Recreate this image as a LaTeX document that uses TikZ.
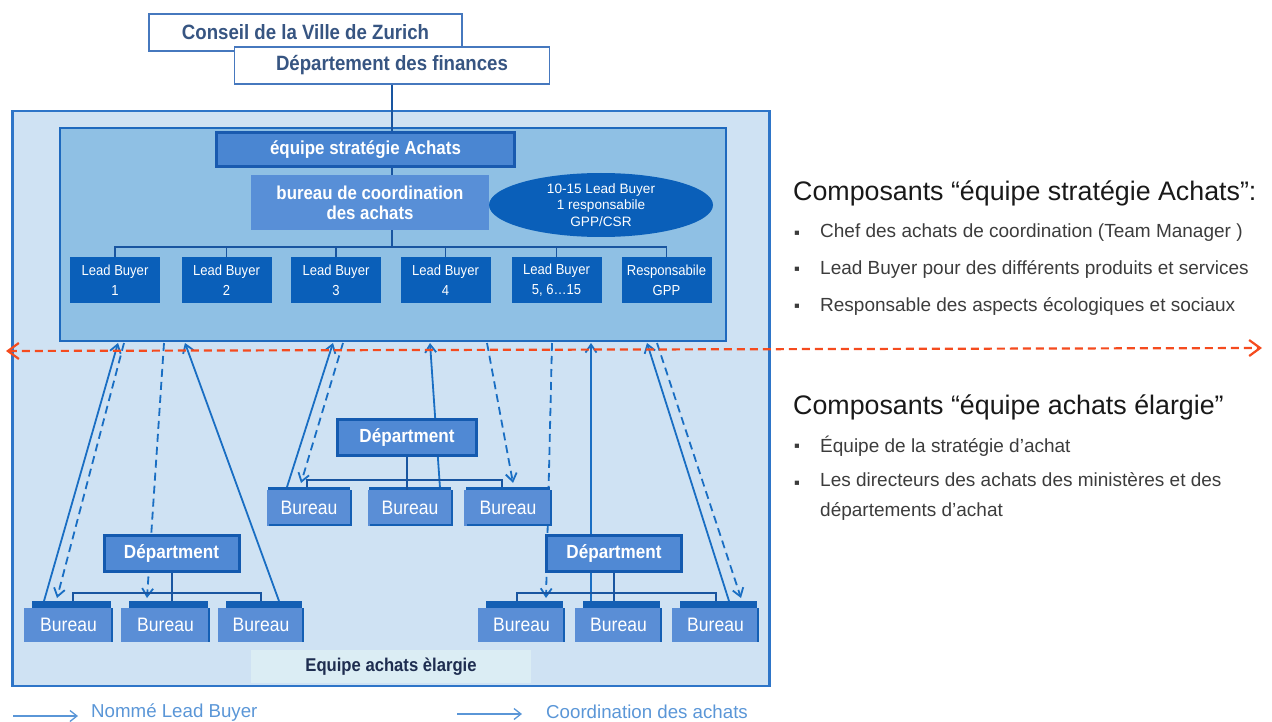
\documentclass[tikz,border=0pt]{standalone}
\usepackage{fontspec}
\setmainfont{Liberation Sans}
\newfontfamily\narrowfont[FakeStretch=0.9]{Liberation Sans}
\newfontfamily\dejavu{DejaVu Sans}
\usetikzlibrary{arrows.meta,shapes.geometric}
\definecolor{outerfill}{RGB}{207,226,243}
\definecolor{outerdraw}{RGB}{46,117,200}
\definecolor{innerfill}{RGB}{143,192,228}
\definecolor{innerdraw}{RGB}{30,105,190}
\definecolor{equifill}{RGB}{74,134,210}
\definecolor{equidraw}{RGB}{25,90,175}
\definecolor{coordfill}{RGB}{88,143,215}
\definecolor{lbfill}{RGB}{10,95,185}
\definecolor{deptfill}{RGB}{80,137,212}
\definecolor{deptdraw}{RGB}{20,90,175}
\definecolor{burfill}{RGB}{90,142,214}
\definecolor{tabc}{RGB}{20,95,180}
\definecolor{busc}{RGB}{25,85,160}
\definecolor{arrc}{RGB}{25,110,195}
\definecolor{redc}{RGB}{245,75,30}
\definecolor{toptext}{RGB}{55,85,130}
\definecolor{topdraw}{RGB}{70,120,190}
\definecolor{elfill}{RGB}{219,237,244}
\definecolor{eltext}{RGB}{30,45,80}
\definecolor{legc}{RGB}{90,150,215}
\definecolor{headc}{RGB}{25,25,25}
\definecolor{bulc}{RGB}{60,60,60}
\begin{document}
\begin{tikzpicture}[x=1pt,y=-1pt,
  topbox/.style={rectangle, draw=topdraw, fill=white, line width=1.2pt, inner sep=0pt, text=toptext, font=\narrowfont\fontsize{20.7}{24}\selectfont\bfseries},
  lbox/.style={rectangle, fill=lbfill, text=white, minimum width=90pt, minimum height=46pt, inner sep=0pt, align=center, font=\narrowfont\fontsize{14.5}{20}\selectfont},
  dept/.style={rectangle, fill=deptfill, draw=deptdraw, line width=3pt, text=white, inner sep=0pt, minimum height=36pt, font=\narrowfont\fontsize{19}{22}\selectfont\bfseries},
  bur/.style={rectangle, fill=burfill, text=white, inner sep=0pt, font=\narrowfont\fontsize{19.5}{22}\selectfont},
  bus/.style={draw=busc, line width=2pt},
  thinline/.style={draw=busc, line width=1.4pt},
  sarr/.style={draw=arrc, line width=1.8pt, -{Straight Barb[length=8pt,width=11pt]}},
  darr/.style={sarr, dash pattern=on 8pt off 5pt},
  headtxt/.style={anchor=west, inner sep=0pt, text=headc, font=\fontsize{26.8}{30}\selectfont},
  bultxt/.style={anchor=west, inner sep=0pt, text=bulc, align=left, font=\fontsize{19}{30}\selectfont},
  bulmark/.style={inner sep=0pt, text=bulc, font=\dejavu\fontsize{8.5}{9}\selectfont},
  legtxt/.style={anchor=west, inner sep=0pt, text=legc, font=\fontsize{18.7}{20}\selectfont},
  legarr/.style={draw=legc, line width=1.3pt, -{Straight Barb[length=7pt,width=11pt]}}
]
\useasboundingbox (0,0) rectangle (1272,722);

% containers
\node[rectangle, draw=outerdraw, fill=outerfill, line width=2.5pt, inner sep=0pt, minimum width=757pt, minimum height=575pt] (outer) at (391,398.5) {};
\node[rectangle, draw=innerdraw, fill=innerfill, line width=2.5pt, inner sep=0pt, minimum width=666pt, minimum height=213pt] (inner) at (393,234.5) {};

% top boxes
\node[topbox, minimum width=313pt, minimum height=37pt] (conseil) at (305.5,32.5) {Conseil de la Ville de Zurich};
\node[topbox, minimum width=315pt, minimum height=37pt] (finances) at (392,65.5) {Département des finances};

% inner content
\node[rectangle, fill=equifill, draw=equidraw, line width=3pt, inner sep=0pt, minimum width=298pt, minimum height=34pt, text=white, font=\narrowfont\fontsize{18.8}{22}\selectfont\bfseries] (equipe) at (365.5,150) {équipe stratégie Achats};
\node[rectangle, fill=coordfill, inner sep=0pt, minimum width=238pt, minimum height=55pt, text=white, align=center, font=\narrowfont\fontsize{18.7}{20}\selectfont\bfseries] (coord) at (370,202.5) {bureau de coordination\\des achats};
\node[ellipse, fill=lbfill, inner sep=0pt, minimum width=224pt, minimum height=64pt, text=white, align=center, font=\fontsize{13.6}{16.5}\selectfont] (ell) at (601,205) {10-15 Lead Buyer\\1 responsabile\\GPP/CSR};

\draw[thinline] (finances.south) -- (finances.south |- equipe.north);
\draw[thinline] (finances.south |- equipe.south) -- (finances.south |- coord.north);

\node[lbox] (lb1) at (115,280) {Lead Buyer\\1};
\node[lbox] (lb2) at (226.5,280) {Lead Buyer\\2};
\node[lbox] (lb3) at (336,280) {Lead Buyer\\3};
\node[lbox] (lb4) at (445.5,280) {Lead Buyer\\4};
\node[lbox] (lb5) at (556.5,280) {Lead Buyer\\5, 6\dots15};
\node[lbox] (lb6) at (666.5,280) {Responsabile\\GPP};
\coordinate (busy) at (0,247);
\draw[thinline] (finances.south |- coord.south) -- (finances.south |- busy);
\draw[thinline] (lb1.north) -- (lb1.north |- busy) -- (lb6.north |- busy) -- (lb6.north);
\foreach \n in {lb2,lb3,lb4,lb5} \draw[thinline] (\n.north) -- (\n.north |- busy);

% arrow anchor points
\coordinate (u1) at (118,343);  \coordinate (v1) at (44,601);
\coordinate (u2) at (124,343);  \coordinate (v2) at (57,598);
\coordinate (u3) at (164,343);  \coordinate (v3) at (147,598);
\coordinate (u4) at (185,343);  \coordinate (v4) at (279,601);
\coordinate (u5) at (333,343);  \coordinate (v5) at (287,487);
\coordinate (u6) at (343,343);  \coordinate (v6) at (301,483);
\coordinate (u7) at (430,343);  \coordinate (v7) at (440,488);
\coordinate (u8) at (487,343);  \coordinate (v8) at (513,483);
\coordinate (u10) at (552,343); \coordinate (v10) at (546,598);
\coordinate (u11) at (591,343); \coordinate (v11) at (591,601);
\coordinate (u12) at (647,343); \coordinate (v12) at (729,601);
\coordinate (u13) at (657,343); \coordinate (v13) at (741,598);

\draw[sarr] (v1) -- (u1);
\draw[darr] (u2) -- (v2);
\draw[darr] (u3) -- (v3);
\draw[sarr] (v4) -- (u4);
\draw[sarr] (v5) -- (u5);
\draw[darr] (u6) -- (v6);
\draw[sarr] (v7) -- (u7);
\draw[darr] (u8) -- (v8);
\draw[darr] (u10) -- (v10);
\draw[sarr] (v11) -- (u11);
\draw[sarr] (v12) -- (u12);
\draw[darr] (u13) -- (v13);

% departments
\node[dept, minimum width=139pt] (cdept) at (407,437.5) {Départment};
\node[dept, minimum width=135pt] (ldept) at (171.5,553.5) {Départment};
\node[dept, minimum width=135pt] (rdept) at (614,553.5) {Départment};

% center bureaus
\node[bur, minimum width=85pt, minimum height=36pt] (cb1) at (309,508) {Bureau};
\node[bur, minimum width=85pt, minimum height=36pt] (cb2) at (410,508) {Bureau};
\node[bur, minimum width=88pt, minimum height=36pt] (cb3) at (508,508) {Bureau};
% bottom bureaus
\node[bur, minimum width=89pt, minimum height=34pt] (lb1b) at (68.5,625) {Bureau};
\node[bur, minimum width=89pt, minimum height=34pt] (lb2b) at (165.5,625) {Bureau};
\node[bur, minimum width=86pt, minimum height=34pt] (lb3b) at (261,625) {Bureau};
\node[bur, minimum width=87pt, minimum height=34pt] (rb1b) at (521.5,625) {Bureau};
\node[bur, minimum width=87pt, minimum height=34pt] (rb2b) at (618.5,625) {Bureau};
\node[bur, minimum width=87pt, minimum height=34pt] (rb3b) at (715.5,625) {Bureau};

\foreach \n in {cb1,cb2,cb3} {
  \fill[tabc] ([xshift=2pt]\n.north west) rectangle ([xshift=-2pt,yshift=3pt]\n.north east);
  \fill[tabc] ([xshift=-2pt]\n.north east) rectangle (\n.south east);
  \fill[tabc] ([xshift=3pt]\n.south west) rectangle ([yshift=2pt]\n.south east);
}
\foreach \n in {lb1b,lb2b,lb3b,rb1b,rb2b,rb3b} {
  \fill[tabc] ([xshift=8pt]\n.north west) rectangle ([xshift=-2pt,yshift=7pt]\n.north east);
  \fill[tabc] ([xshift=-2pt]\n.north east) rectangle (\n.south east);
}

% buses
\coordinate (lbus) at (0,593);
\draw[bus] (cdept.south) -- (cdept.south |- cb2.north);
\draw[bus] ([xshift=-2pt]cb1.north |- cb1.north) ++(0,-3) -- ++(0,-7) -| ([xshift=-6pt,yshift=3pt]cb3.north);
\draw[bus] (ldept.south) -- ([yshift=7pt]ldept.south |- lb2b.north);
\draw[bus] ([xshift=4.5pt,yshift=7pt]lb1b.north) |- (lbus -| lb3b.north) -- ([yshift=7pt]lb3b.north);
\draw[bus] (rdept.south) -- ([yshift=7pt]rdept.south |- rb2b.north);
\draw[bus] ([xshift=-4.5pt,yshift=7pt]rb1b.north) |- (lbus -| rb3b.north) -- ([yshift=7pt]rb3b.north);

% label of extended team
\node[rectangle, fill=elfill, inner sep=0pt, minimum width=280pt, minimum height=33pt, text=eltext, font=\narrowfont\fontsize{18.5}{20}\selectfont\bfseries] (elargie) at (391,666.5) {Equipe achats èlargie};

% red dashed separator
\coordinate (rl) at (6,351);
\coordinate (rr) at (1262,348);
\draw[draw=redc, line width=2.2pt, dash pattern=on 8pt off 5pt, {Straight Barb[length=11pt,width=16pt]}-{Straight Barb[length=11pt,width=16pt]}] (rl) -- (rr);

% legend
\coordinate (la1) at (13,716); \coordinate (la2) at (78,716);
\draw[legarr] (la1) -- (la2);
\node[legtxt] (lg1) at (91,713) {Nommé Lead  Buyer};
\coordinate (lb1a) at (457,714); \coordinate (lb2a) at (522,714);
\draw[legarr] (lb1a) -- (lb2a);
\node[legtxt] (lg2) at (546,712) {Coordination des achats};

% right-hand text
\node[headtxt] (h1) at (793,193) {Composants “équipe stratégie Achats”:};
\node[bulmark] (m1) at (797,233) {▪};
\node[bultxt] (t1) at (820,233) {Chef des achats de coordination (Team Manager )};
\node[bulmark] (m2) at (797,269) {▪};
\node[bultxt] (t2) at (820,269) {Lead Buyer pour des différents produits et services};
\node[bulmark] (m3) at (797,306) {▪};
\node[bultxt] (t3) at (820,306) {Responsable des aspects écologiques et sociaux};

\node[headtxt] (h2) at (793,407) {Composants “équipe achats élargie”};
\node[bulmark] (m4) at (797,446) {▪};
\node[bultxt] (t4) at (820,446) {Équipe de la stratégie d'achat};
\node[bulmark] (m5) at (797,483) {▪};
\node[bultxt, anchor=north west] (t5) at (820,472) {Les directeurs des achats des ministères et des\\départements d'achat};
\end{tikzpicture}
\end{document}
